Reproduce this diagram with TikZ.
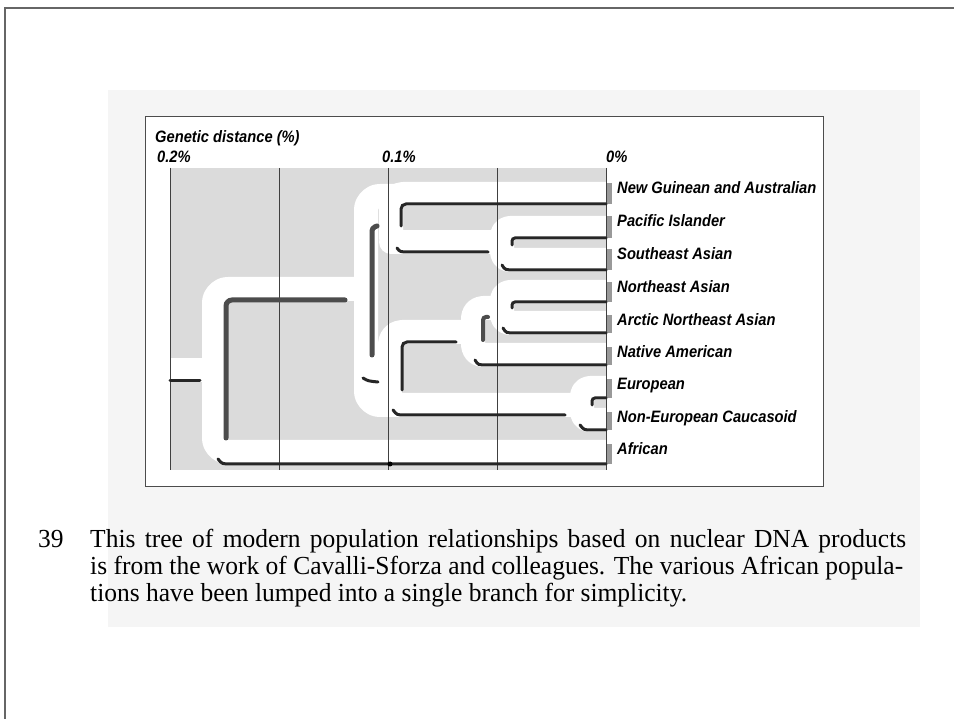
\documentclass[tikz,border=0pt]{standalone}
\usepackage{fontspec}
\setmainfont{Liberation Serif}
\newfontfamily\labfont[FakeStretch=0.89]{Liberation Sans}
\newfontfamily\capfont[FakeStretch=0.98]{Liberation Serif}
\begin{document}
\begin{tikzpicture}[x=1pt,y=-1pt,
  lab/.style={font=\labfont\bfseries\itshape\fontsize{16.5}{19}\selectfont, anchor=base west, inner sep=0pt},
  captext/.style={font=\capfont\fontsize{26}{27}\selectfont, anchor=base west, inner sep=0pt},
  tube/.style={draw=white, line width=24, line cap=round, line join=round},
  br/.style={draw=black!85, line width=3, line cap=round},
  brv/.style={draw=black!70, line width=5, line cap=round},
  gline/.style={draw=black!75, line width=0.8},
  tickmark/.style={fill=black!40, draw=none}]
\useasboundingbox (0,0) rectangle (954,719);
\fill[white] (0,0) rectangle (954,719);
% page
\draw[black!60, line width=1.5] (5,719) -- (5,8) -- (954,8);
\fill[black!4] (108,90) rectangle (920,627);
\draw[black!70, line width=1, fill=white] (145,117) rectangle (823,486);
% shaded field
\fill[black!14] (170,168) rectangle (606,470);
% white tubes
\draw[tube] (160,370) -- (214,370);
\draw[tube, rounded corners=14] (362,289) -- (214,289) -- (214,452) -- (620,452);
\draw[tube, rounded corners=14] (395,196) -- (366,196) -- (366,405) -- (582,405);
\draw[tube, rounded corners=12] (391,238) -- (391,194) -- (620,194);
\draw[tube] (391,242) -- (502,242);
\draw[tube, rounded corners=8] (620,228) -- (502,228) -- (502,260) -- (620,260);
\draw[tube, rounded corners=12] (390,395) -- (390,332) -- (473,332);
\draw[tube, rounded corners=10] (502,308) -- (473,308) -- (473,355) -- (620,355);
\draw[tube, rounded corners=8] (620,292) -- (502,292) -- (502,323) -- (620,323);
\draw[tube, rounded corners=8] (620,388) -- (582,388) -- (582,420) -- (620,420);
% grid lines
\foreach \gx in {170,279,388,497,606} \draw[gline] (\gx,168) -- (\gx,470);
% leaf coordinates
\coordinate (ng) at (606,204);
\coordinate (pi) at (606,238);
\coordinate (se) at (606,270);
\coordinate (ne) at (606,302);
\coordinate (ar) at (606,333);
\coordinate (na) at (606,365);
\coordinate (eu) at (606,398);
\coordinate (nc) at (606,430);
\coordinate (af) at (606,464);
% leaf tick marks
\foreach \ly/\by in {188/204,221/238,254/270,287/302,320/333,352/365,384/398,417/430,449/464}
  \fill[tickmark] (607,\ly-5) rectangle (612,\by);
% branches
\draw[br, rounded corners=5] (401,226) -- (401,204) -- (ng);
\draw[br, rounded corners=3] (512,245) -- (512,238) -- (pi);
\draw[br] (502,265) .. controls (505,270) .. (516,270) -- (se);
\draw[br] (397,248) .. controls (400,252) .. (410,252) -- (488,252);
\draw[br, rounded corners=3] (512,308) -- (512,302) -- (ne);
\draw[br] (503,328) .. controls (506,333) .. (516,333) -- (ar);
\draw[brv, line width=4, rounded corners=3] (483,340) -- (483,317) -- (488,317);
\draw[br] (475,360) .. controls (478,365) .. (488,365) -- (na);
\draw[br, rounded corners=5] (402,390) -- (402,342) -- (456,342);
\draw[brv, rounded corners=3] (372,355) -- (372,228) -- (377,226);
\draw[br] (363,378) .. controls (368,381) .. (378,382);
\draw[br, rounded corners=3] (592,405) -- (592,398) -- (eu);
\draw[br] (580,425) .. controls (584,430) .. (592,430) -- (nc);
\draw[br] (393,410) .. controls (397,415) .. (405,415) -- (565,415);
\draw[brv, rounded corners=6] (226,438) -- (226,300) -- (345,300);
\draw[br] (170,381) -- (200,381);
\draw[br] (218,459) .. controls (222,464) .. (232,464) -- (af);
\fill[black] (390,464) circle (2.5);
% axis texts
\node[lab] (title) at (155,143) {Genetic distance (\%)};
\node[lab] (t02) at (157,163) {0.2\%};
\node[lab] (t01) at (382,163) {0.1\%};
\node[lab] (t00) at (606,163) {0\%};
% labels
\node[lab] (lng) at (617,194) {New Guinean and Australian};
\node[lab] (lpi) at (617,227) {Pacific Islander};
\node[lab] (lse) at (617,260) {Southeast Asian};
\node[lab] (lne) at (617,293) {Northeast Asian};
\node[lab] (lar) at (617,326) {Arctic Northeast Asian};
\node[lab] (lna) at (617,358) {Native American};
\node[lab] (leu) at (617,390) {European};
\node[lab] (lnc) at (617,423) {Non-European Caucasoid};
\node[lab] (laf) at (617,455) {African};
% caption
\node[captext] (num) at (38,547) {39};
\node[captext] (c1) at (90,547) {\makebox[816pt][s]{This tree of modern population relationships based on nuclear DNA products}};
\node[captext] (c2) at (90,574) {\makebox[813pt][s]{is from the work of Cavalli-Sforza and colleagues. The various African popula-}};
\node[captext] (c3) at (90,601) {tions have been lumped into a single branch for simplicity.};
\end{tikzpicture}
\end{document}
